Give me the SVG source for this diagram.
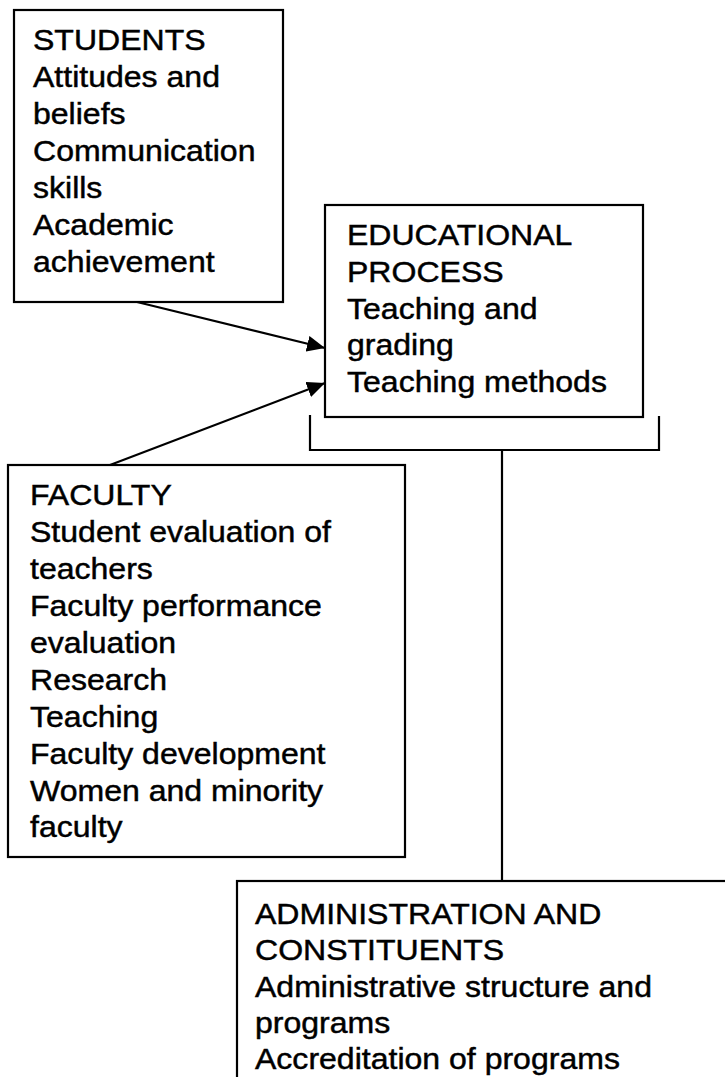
<svg xmlns="http://www.w3.org/2000/svg" width="725" height="1077" viewBox="0 0 725 1077">
  <defs>
    <style>
      .box { fill: #ffffff; stroke: #000000; stroke-width: 2.2; }
      .lbl { font-family: "Liberation Sans", Arial, sans-serif; font-size: 28.6px; fill: #000000; stroke: #000000; stroke-width: 0.45; }
      .wire { fill: none; stroke: #000000; stroke-width: 2.2; }
    </style>
    <marker id="head" markerUnits="userSpaceOnUse" markerWidth="20" markerHeight="16" refX="18" refY="8" orient="auto">
      <path d="M0,0 L18,8 L0,16 Z" fill="#000000"/>
    </marker>
  </defs>
  <rect width="725" height="1077" fill="#ffffff"/>

  <!-- connectors -->
  <g id="connectors">
    <line class="wire" x1="137" y1="302" x2="325" y2="348" marker-end="url(#head)"/>
    <line class="wire" x1="110" y1="465" x2="325" y2="383" marker-end="url(#head)"/>
    <polyline class="wire" points="310,415 310,450 659,450 659,416"/>
    <line class="wire" x1="502" y1="450" x2="502" y2="881"/>
  </g>

  <!-- students -->
  <g id="students">
    <rect class="box" x="14" y="10" width="269" height="292"/>
    <g transform="translate(33 0) scale(1.12 1)">
      <text class="lbl" x="0" y="50">STUDENTS</text>
      <text class="lbl" x="0" y="87">Attitudes and</text>
      <text class="lbl" x="0" y="124">beliefs</text>
      <text class="lbl" x="0" y="161">Communication</text>
      <text class="lbl" x="0" y="198">skills</text>
      <text class="lbl" x="0" y="235">Academic</text>
      <text class="lbl" x="0" y="272">achievement</text>
    </g>
  </g>

  <!-- educational process -->
  <g id="educational-process">
    <rect class="box" x="325" y="205" width="318" height="212"/>
    <g transform="translate(347 0) scale(1.12 1)">
      <text class="lbl" x="0" y="245">EDUCATIONAL</text>
      <text class="lbl" x="0" y="282">PROCESS</text>
      <text class="lbl" x="0" y="319">Teaching and</text>
      <text class="lbl" x="0" y="355">grading</text>
      <text class="lbl" x="0" y="392">Teaching methods</text>
    </g>
  </g>

  <!-- faculty -->
  <g id="faculty">
    <rect class="box" x="8" y="465" width="397" height="392"/>
    <g transform="translate(30 0) scale(1.12 1)">
      <text class="lbl" x="0" y="505">FACULTY</text>
      <text class="lbl" x="0" y="542">Student evaluation of</text>
      <text class="lbl" x="0" y="579">teachers</text>
      <text class="lbl" x="0" y="616">Faculty performance</text>
      <text class="lbl" x="0" y="653">evaluation</text>
      <text class="lbl" x="0" y="690">Research</text>
      <text class="lbl" x="0" y="727">Teaching</text>
      <text class="lbl" x="0" y="764">Faculty development</text>
      <text class="lbl" x="0" y="801">Women and minority</text>
      <text class="lbl" x="0" y="837">faculty</text>
    </g>
  </g>

  <!-- administration and constituents -->
  <g id="administration">
    <rect class="box" x="237" y="881" width="500" height="220"/>
    <g transform="translate(255 0) scale(1.12 1)">
      <text class="lbl" x="0" y="924">ADMINISTRATION AND</text>
      <text class="lbl" x="0" y="960">CONSTITUENTS</text>
      <text class="lbl" x="0" y="997">Administrative structure and</text>
      <text class="lbl" x="0" y="1033">programs</text>
      <text class="lbl" x="0" y="1069">Accreditation of programs</text>
    </g>
  </g>
</svg>
